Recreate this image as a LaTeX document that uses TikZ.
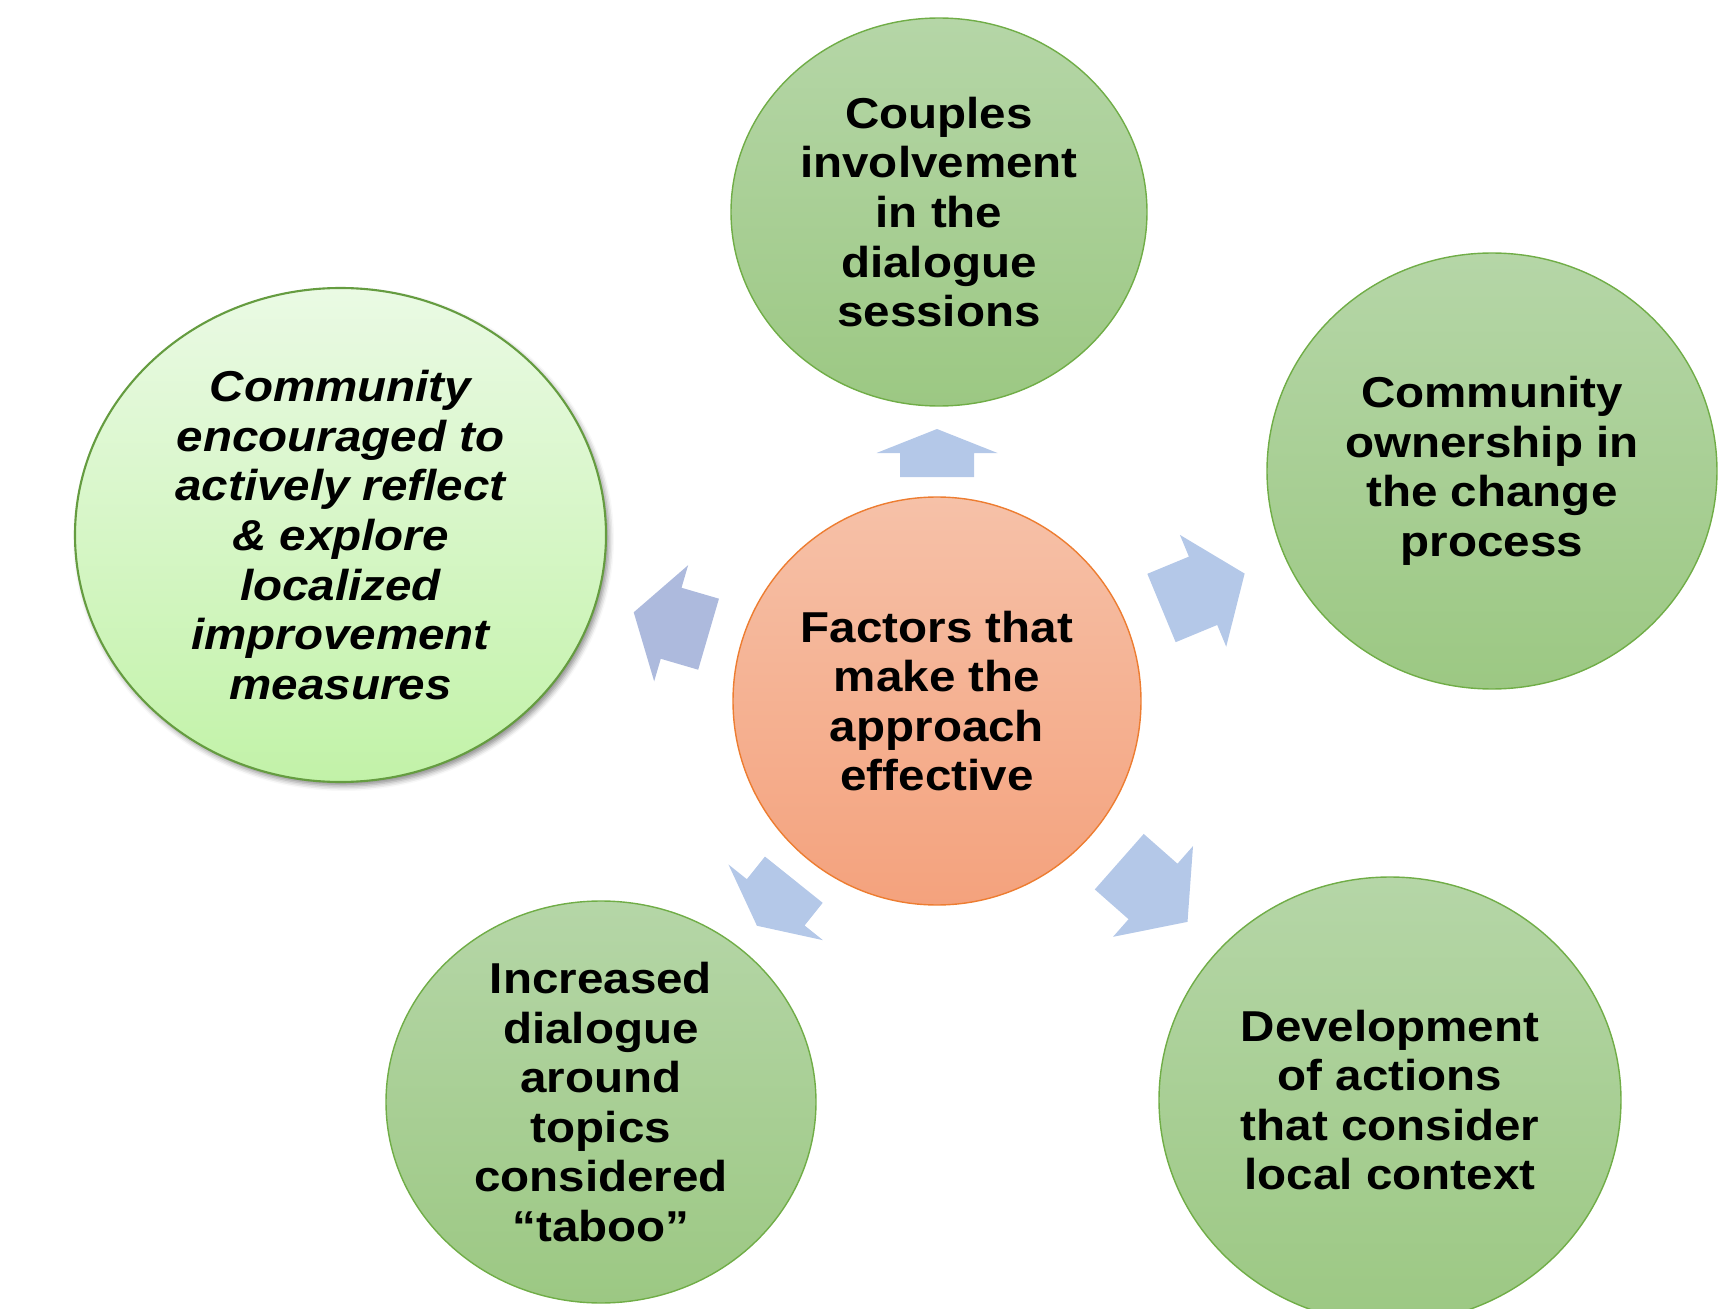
\documentclass[tikz,border=0pt]{standalone}
\usepackage{fontspec}
\setmainfont{Liberation Sans}[FakeStretch=1.1]
\usetikzlibrary{shapes.geometric,shadows.blur}

\definecolor{rimgreen}{HTML}{70AD47}
\definecolor{greentop}{HTML}{B5D6A7}
\definecolor{greenbottom}{HTML}{9CC883}
\definecolor{palegreentop}{HTML}{EAFAE4}
\definecolor{palegreenbottom}{HTML}{C2F2A8}
\definecolor{rimorange}{HTML}{ED7D31}
\definecolor{salmontop}{HTML}{F6C1A8}
\definecolor{salmonbottom}{HTML}{F4A27D}
\definecolor{arrowblue}{HTML}{B4C8E8}
\definecolor{arrowlilac}{HTML}{ADBADD}

\tikzset{
  factor/.style={ellipse, draw=rimgreen, line width=0.4pt, top color=greentop, bottom color=greenbottom,
    inner sep=0pt, align=center, font=\bfseries\fontsize{12.3}{14.1}\selectfont},
  hubcircle/.style={circle, draw=rimorange, line width=0.4pt, top color=salmontop, bottom color=salmonbottom,
    inner sep=0pt, align=center, font=\bfseries\fontsize{12.3}{14.1}\selectfont}
}

% block arrow pointing away from the hub: angle, start, shaft, head, colour
\newcommand{\flowarrow}[5]{%
  \fill[#5, shift={(hub.center)}, rotate=#1] (#2,-37) -- ++(#3,0) -- ++(0,-23.5) -- ++(#4,60.5)
    -- ++(-#4,60.5) -- ++(0,-23.5) -- ++(-#3,0) -- cycle;}

\begin{document}
\begin{tikzpicture}[x=0.1mm,y=0.1mm]
\useasboundingbox (0,0) rectangle (1729,1308);

% The hub
\node[hubcircle, minimum size=40.8mm] (hub) at (937,607) {Factors that\\make the\\approach\\effective};

% The factors around it
\node[factor, minimum width=41.6mm, minimum height=38.8mm] (couples) at (939,1096)
  {Couples\\involvement\\in the\\dialogue\\sessions};
\node[factor, minimum width=45mm, minimum height=43.6mm] (ownership) at (1492,837)
  {Community\\ownership in\\the change\\process};
\node[factor, minimum width=46.2mm, minimum height=44.6mm] (context) at (1390,208)
  {Development\\of actions\\that consider\\local context};
\node[factor, minimum width=43mm, minimum height=40.2mm] (taboo) at (601,206)
  {Increased\\dialogue\\around\\topics\\considered\\``taboo''};
\node[factor, draw=rimgreen!90!black, line width=0.6pt, top color=palegreentop, bottom color=palegreenbottom,
  font=\bfseries\itshape\fontsize{12.3}{14.1}\selectfont,
  blur shadow={shadow xshift=0.3mm, shadow yshift=-0.4mm, shadow blur radius=0.5mm, shadow opacity=45},
  minimum width=53.1mm, minimum height=49.4mm] (reflect) at (340.5,773)
  {Community\\encouraged to\\actively reflect\\\& explore\\localized\\improvement\\measures};

% The arrows
\flowarrow{90}{224}{24}{24}{arrowblue}
\flowarrow{22.5}{243}{45}{45}{arrowblue}
\flowarrow{-41.4}{243}{45}{46}{arrowblue}
\flowarrow{231.3}{229}{29}{30}{arrowblue}
\flowarrow{163.7}{238}{39}{39}{arrowlilac}

\end{tikzpicture}
\end{document}
